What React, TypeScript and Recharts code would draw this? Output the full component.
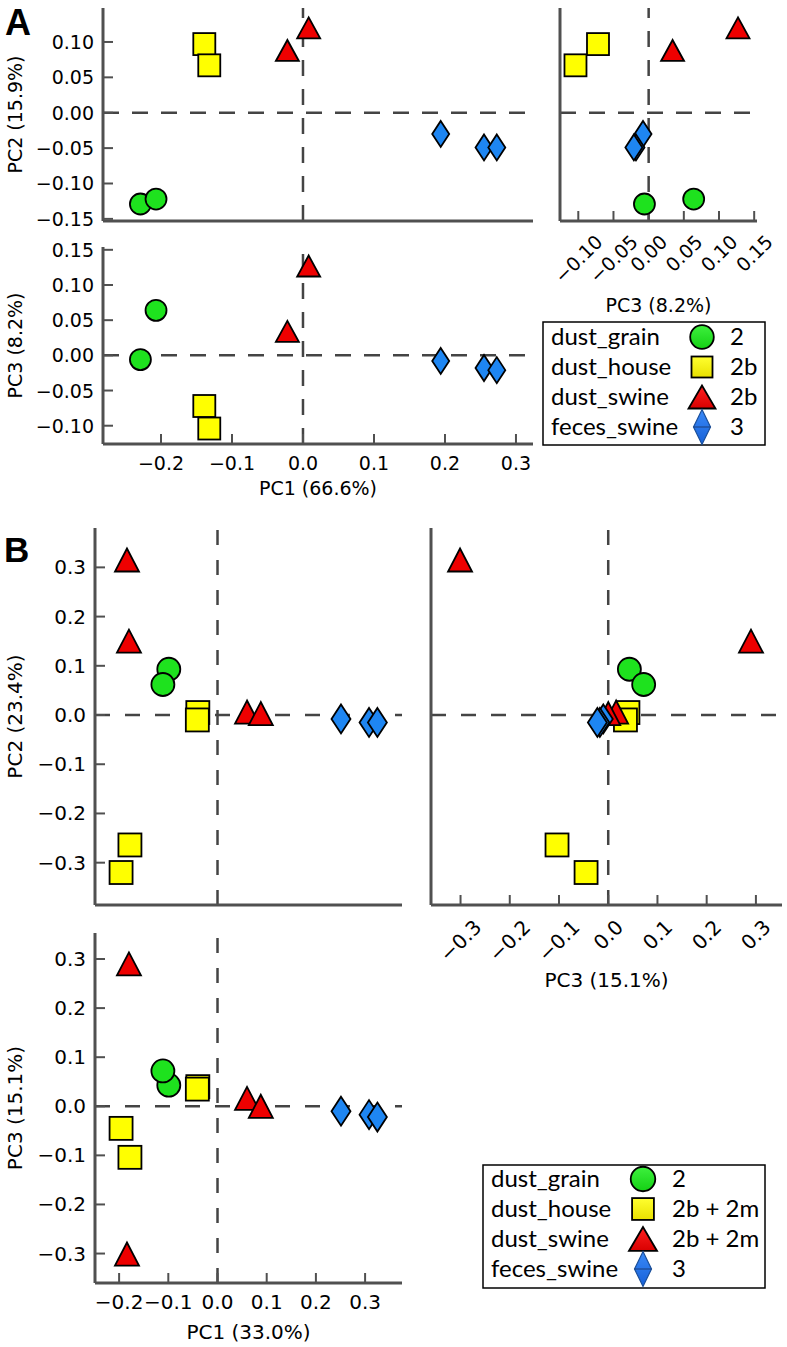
import React from 'react';
import { ScatterChart, Scatter, XAxis, YAxis, ReferenceLine } from 'recharts';

const GROUP_NAMES = ['dust_grain', 'dust_house', 'dust_swine', 'feces_swine'];
const GROUP_COLORS = ['#1ee21e', '#ffff00', '#ee0000', '#1e86f2'];
const GROUP_SHAPES = ['circle', 'square', 'triangle', 'diamond'];

// ---- Panel A values ----
const A_PC1_GRAIN = [-0.229, -0.207];
const A_PC2_GRAIN = [-0.129, -0.122];
const A_PC3_GRAIN = [-0.006, 0.064];
const A_PC1_HOUSE = [-0.139, -0.132];
const A_PC2_HOUSE = [0.097, 0.067];
const A_PC3_HOUSE = [-0.072, -0.104];
const A_PC1_SWINE = [-0.022, 0.008];
const A_PC2_SWINE = [0.088, 0.12];
const A_PC3_SWINE = [0.034, 0.127];
const A_PC1_FECES = [0.194, 0.255, 0.273];
const A_PC2_FECES = [-0.03, -0.049, -0.049];
const A_PC3_FECES = [-0.008, -0.018, -0.021];

// ---- Panel B values ----
const B_PC1_GRAIN = [-0.099, -0.111];
const B_PC2_GRAIN = [0.093, 0.062];
const B_PC3_GRAIN = [0.043, 0.072];
const B_PC1_HOUSE = [-0.04, -0.041, -0.178, -0.196];
const B_PC2_HOUSE = [0.005, -0.01, -0.264, -0.32];
const B_PC3_HOUSE = [0.04, 0.035, -0.104, -0.045];
const B_PC1_SWINE = [-0.184, -0.18, 0.06, 0.088];
const B_PC2_SWINE = [0.315, 0.15, 0.006, 0.003];
const B_PC3_SWINE = [-0.301, 0.29, 0.016, 0.0];
const B_PC1_FECES = [0.251, 0.308, 0.325];
const B_PC2_FECES = [-0.008, -0.015, -0.015];
const B_PC3_FECES = [-0.01, -0.017, -0.022];

// ---- tick labels ----
const A_PC1_TICKS = [-0.2, -0.1, 0, 0.1, 0.2, 0.3];
const A_PC2_TICKS = [-0.15, -0.1, -0.05, 0, 0.05, 0.1];
const A_PC3_TICKS = [-0.1, -0.05, 0, 0.05, 0.1, 0.15];
const B_PC1_TICKS = [-0.2, -0.1, 0, 0.1, 0.2, 0.3];
const B_PC2_TICKS = [-0.3, -0.2, -0.1, 0, 0.1, 0.2, 0.3];
const B_PC3_TICKS = [-0.3, -0.2, -0.1, 0, 0.1, 0.2, 0.3];

const A_LABELS = { pc1: 'PC1 (66.6%)', pc2: 'PC2 (15.9%)', pc3: 'PC3 (8.2%)' };
const B_LABELS = { pc1: 'PC1 (33.0%)', pc2: 'PC2 (23.4%)', pc3: 'PC3 (15.1%)' };

const A_LEGEND_VALUES = ['2', '2b', '2b', '3'];
const B_LEGEND_VALUES = ['2', '2b + 2m', '2b + 2m', '3'];

const A_GROUPS = [
  { pc1: A_PC1_GRAIN, pc2: A_PC2_GRAIN, pc3: A_PC3_GRAIN },
  { pc1: A_PC1_HOUSE, pc2: A_PC2_HOUSE, pc3: A_PC3_HOUSE },
  { pc1: A_PC1_SWINE, pc2: A_PC2_SWINE, pc3: A_PC3_SWINE },
  { pc1: A_PC1_FECES, pc2: A_PC2_FECES, pc3: A_PC3_FECES },
];
const B_GROUPS = [
  { pc1: B_PC1_GRAIN, pc2: B_PC2_GRAIN, pc3: B_PC3_GRAIN },
  { pc1: B_PC1_HOUSE, pc2: B_PC2_HOUSE, pc3: B_PC3_HOUSE },
  { pc1: B_PC1_SWINE, pc2: B_PC2_SWINE, pc3: B_PC3_SWINE },
  { pc1: B_PC1_FECES, pc2: B_PC2_FECES, pc3: B_PC3_FECES },
];

const A_DOMAIN = { pc1: [-0.2817, 0.324], pc2: [-0.153, 0.148], pc3: [-0.126, 0.154] };
const B_DOMAIN = { pc1: [-0.249, 0.375], pc2: [-0.386, 0.38], pc3: [-0.36, 0.353] };

const FONT = '"DejaVu Sans", sans-serif';
const AXIS_COLOR = '#505050';

const A_SIZES = { r: 10.5, sq: 22, tw: 23, th: 21, dw: 17, dh: 26 };
const B_SIZES = { r: 11.5, sq: 23, tw: 24, th: 23, dw: 19, dh: 29 };

function Marker({ kind, cx, cy, color, s }: any) {
  if (cx == null || cy == null) return null;
  const common = { fill: color, stroke: '#000', strokeWidth: 1.8 };
  if (kind === 'circle') return <circle cx={cx} cy={cy} r={s.r} {...common} />;
  if (kind === 'square')
    return <rect x={cx - s.sq / 2} y={cy - s.sq / 2} width={s.sq} height={s.sq} {...common} />;
  if (kind === 'triangle')
    return (
      <polygon
        points={`${cx},${cy - s.th / 2} ${cx - s.tw / 2},${cy + s.th / 2} ${cx + s.tw / 2},${cy + s.th / 2}`}
        {...common}
      />
    );
  return (
    <polygon
      points={`${cx},${cy - s.dh / 2} ${cx + s.dw / 2},${cy} ${cx},${cy + s.dh / 2} ${cx - s.dw / 2},${cy}`}
      {...common}
    />
  );
}

const fmt = (v: number, d: number) => (v < -1e-9 ? '\u2212' : '') + Math.abs(v).toFixed(d);
const textW = (s: string) =>
  [...s].reduce((a, c) => a + (c === '.' ? 0.318 : c === '\u2212' ? 0.838 : 0.636), 0);

const makeBottomTick = (fs: number, d: number, off: number) => (props: any) => {
  const { x, y, payload } = props;
  return (
    <text x={x} y={y + off} textAnchor="middle" dominantBaseline="central" fontSize={fs} fontFamily={FONT} fill="#000">
      {fmt(payload.value, d)}
    </text>
  );
};

const makeRotTick = (fs: number, d: number, pad: number) => (props: any) => {
  const { x, y, payload } = props;
  const s = fmt(payload.value, d);
  const half = ((textW(s) * fs + fs) * 0.7071) / 2;
  const cy = y + pad + half;
  return (
    <text
      x={x}
      y={cy}
      textAnchor="middle"
      dominantBaseline="central"
      transform={`rotate(-45 ${x} ${cy})`}
      fontSize={fs}
      fontFamily={FONT}
      fill="#000"
    >
      {s}
    </text>
  );
};

const makeLeftTick = (fs: number, d: number, off: number) => (props: any) => {
  const { x, y, payload } = props;
  return (
    <text x={x - off} y={y} textAnchor="end" dominantBaseline="central" fontSize={fs} fontFamily={FONT} fill="#000">
      {fmt(payload.value, d)}
    </text>
  );
};

const makeXLabel = (text: string, off: number, fs: number) => (props: any) => {
  const vb = props.viewBox;
  return (
    <text x={vb.x + vb.width / 2} y={vb.y + off} textAnchor="middle" dominantBaseline="central" fontSize={fs} fontFamily={FONT} fill="#000">
      {text}
    </text>
  );
};

const makeYLabel = (text: string, xPos: number, fs: number) => (props: any) => {
  const vb = props.viewBox;
  const cy = vb.y + vb.height / 2;
  return (
    <text
      x={xPos}
      y={cy}
      transform={`rotate(-90 ${xPos} ${cy})`}
      textAnchor="middle"
      dominantBaseline="central"
      fontSize={fs}
      fontFamily={FONT}
      fill="#000"
    >
      {text}
    </text>
  );
};

type PanelProps = {
  left: number;
  top: number;
  width: number;
  height: number;
  mTop: number;
  mRight: number;
  yW: number;
  xH: number;
  groups: any[];
  xKey: 'pc1' | 'pc2' | 'pc3';
  yKey: 'pc1' | 'pc2' | 'pc3';
  xDomain: number[];
  yDomain: number[];
  xTicks: number[];
  yTicks: number[];
  xMode: 'none' | 'normal' | 'rot';
  yShow: boolean;
  xLabel?: string;
  xLabelOff?: number;
  yLabel?: string;
  fs: number;
  xDec: number;
  yDec: number;
  sizes: any;
  dash: string;
  rotPad?: number;
};

function Panel(p: PanelProps) {
  let xTick: any = false;
  if (p.xMode === 'normal') xTick = makeBottomTick(p.fs, p.xDec, 19);
  if (p.xMode === 'rot') xTick = makeRotTick(p.fs, p.xDec, p.rotPad || 11);
  const yTick: any = p.yShow ? makeLeftTick(p.fs, p.yDec, 9) : false;
  return (
    <div style={{ position: 'absolute', left: p.left, top: p.top, width: p.width, height: p.height }}>
      <ScatterChart width={p.width} height={p.height} margin={{ top: p.mTop, right: p.mRight, bottom: 0, left: 0 }}>
        <XAxis
          type="number"
          dataKey="x"
          domain={p.xDomain}
          allowDataOverflow
          ticks={p.xTicks}
          interval={0}
          height={p.xH}
          tick={xTick}
          tickSize={-10}
          tickMargin={10}
          axisLine={{ stroke: AXIS_COLOR, strokeWidth: 3 }}
          tickLine={{ stroke: AXIS_COLOR, strokeWidth: 2 }}
          label={p.xLabel ? makeXLabel(p.xLabel, p.xLabelOff || 40, p.fs) : undefined}
        />
        <YAxis
          type="number"
          dataKey="y"
          domain={p.yDomain}
          allowDataOverflow
          ticks={p.yTicks}
          interval={0}
          width={p.yW}
          tick={yTick}
          tickSize={-10}
          tickMargin={10}
          axisLine={{ stroke: AXIS_COLOR, strokeWidth: 3 }}
          tickLine={{ stroke: AXIS_COLOR, strokeWidth: 2 }}
          label={p.yLabel ? makeYLabel(p.yLabel, 15, p.fs) : undefined}
        />
        <ReferenceLine x={0} stroke="#444" strokeWidth={2.5} strokeDasharray={p.dash} />
        <ReferenceLine y={0} stroke="#444" strokeWidth={2.5} strokeDasharray={p.dash} />
        {p.groups.map((g, gi) => {
          const data = g[p.xKey].map((v: number, i: number) => ({ x: v, y: g[p.yKey][i] }));
          return (
            <Scatter
              key={gi}
              name={GROUP_NAMES[gi]}
              data={data}
              isAnimationActive={false}
              shape={(sp: any) => (
                <Marker kind={GROUP_SHAPES[gi]} cx={sp.cx} cy={sp.cy} color={GROUP_COLORS[gi]} s={p.sizes} />
              )}
            />
          );
        })}
      </ScatterChart>
    </div>
  );
}

function LegendMarker({ kind, cx, cy, big }: any) {
  const k = big ? 1.04 : 1;
  if (kind === 'circle')
    return <circle cx={cx} cy={cy} r={11.8 * k} fill="url(#lgGreen)" stroke="#000" strokeWidth={1.8} />;
  if (kind === 'square') {
    const s = 21 * k;
    return <rect x={cx - s / 2} y={cy - s / 2} width={s} height={s} fill="url(#lgYellow)" stroke="#000" strokeWidth={1.8} />;
  }
  if (kind === 'triangle') {
    const w = 27 * k, h = 23 * k;
    return (
      <polygon
        points={`${cx},${cy - h / 2} ${cx - w / 2},${cy + h / 2} ${cx + w / 2},${cy + h / 2}`}
        fill="url(#lgRed)"
        stroke="#000"
        strokeWidth={1.8}
      />
    );
  }
  const w = 17, h = 35;
  return (
    <g>
      <polygon
        points={`${cx},${cy - h / 2} ${cx + w / 2},${cy} ${cx},${cy + h / 2} ${cx - w / 2},${cy}`}
        fill="url(#lgBlue)"
        stroke="#1a4f9a"
        strokeWidth={1.2}
      />
      <line x1={cx - w / 2} y1={cy} x2={cx + w / 2} y2={cy} stroke="#1a3f7a" strokeWidth={1} />
    </g>
  );
}

function LegendBox({ x, y, w, h, textX, markerX, valueX, rows, values, fs, big }: any) {
  return (
    <g>
      <rect x={x} y={y} width={w} height={h} fill="#fff" stroke="#000" strokeWidth={1.5} />
      {rows.map((ry: number, i: number) => (
        <g key={i}>
          <text x={textX} y={ry + 8} fontSize={fs} fontFamily="Lato, sans-serif" fill="#000">
            {GROUP_NAMES[i]}
          </text>
          <LegendMarker kind={GROUP_SHAPES[i]} cx={markerX} cy={ry} big={big} />
          <text x={valueX} y={ry + 8} fontSize={fs} fontFamily="Lato, sans-serif" fill="#000">
            {values[i]}
          </text>
        </g>
      ))}
    </g>
  );
}

export default function App() {
  return (
    <div style={{ position: 'absolute', left: 0, top: 0, width: 787, height: 1347, background: '#fff', overflow: 'hidden' }}>
      {/* Panel A */}
      <Panel left={0} top={0} width={537} height={233} mTop={8} mRight={4} yW={103} xH={12}
        groups={A_GROUPS} xKey="pc1" yKey="pc2" xDomain={A_DOMAIN.pc1} yDomain={A_DOMAIN.pc2}
        xTicks={A_PC1_TICKS} yTicks={A_PC2_TICKS} xMode="none" yShow yLabel={A_LABELS.pc2}
        fs={19} xDec={1} yDec={2} sizes={A_SIZES} dash="16 13" />
      <Panel left={540} top={0} width={247} height={320} mTop={8} mRight={30} yW={20} xH={99}
        groups={A_GROUPS} xKey="pc3" yKey="pc2" xDomain={A_DOMAIN.pc3} yDomain={A_DOMAIN.pc2}
        xTicks={A_PC3_TICKS} yTicks={A_PC2_TICKS} xMode="rot" rotPad={10.5} yShow={false}
        xLabel={A_LABELS.pc3} xLabelOff={84} fs={19} xDec={2} yDec={2} sizes={A_SIZES} dash="16 13" />
      <Panel left={0} top={240} width={537} height={260} mTop={7} mRight={4} yW={103} xH={56}
        groups={A_GROUPS} xKey="pc1" yKey="pc3" xDomain={A_DOMAIN.pc1} yDomain={A_DOMAIN.pc3}
        xTicks={A_PC1_TICKS} yTicks={A_PC3_TICKS} xMode="normal" yShow yLabel={A_LABELS.pc3}
        xLabel={A_LABELS.pc1} xLabelOff={44} fs={19} xDec={1} yDec={2} sizes={A_SIZES} dash="16 13" />
      {/* Panel B */}
      <Panel left={0} top={510} width={406} height={407} mTop={18} mRight={4} yW={95} xH={12}
        groups={B_GROUPS} xKey="pc1" yKey="pc2" xDomain={B_DOMAIN.pc1} yDomain={B_DOMAIN.pc2}
        xTicks={B_PC1_TICKS} yTicks={B_PC2_TICKS} xMode="none" yShow yLabel={B_LABELS.pc2}
        fs={20} xDec={1} yDec={1} sizes={B_SIZES} dash="15 15" />
      <Panel left={411} top={510} width={375} height={490} mTop={18} mRight={4} yW={20} xH={95}
        groups={B_GROUPS} xKey="pc3" yKey="pc2" xDomain={B_DOMAIN.pc3} yDomain={B_DOMAIN.pc2}
        xTicks={B_PC3_TICKS} yTicks={B_PC2_TICKS} xMode="rot" rotPad={11.5} yShow={false}
        xLabel={B_LABELS.pc3} xLabelOff={75} fs={20} xDec={1} yDec={1} sizes={B_SIZES} dash="15 15" />
      <Panel left={0} top={920} width={406} height={427} mTop={13} mRight={4} yW={95} xH={64}
        groups={B_GROUPS} xKey="pc1" yKey="pc3" xDomain={B_DOMAIN.pc1} yDomain={B_DOMAIN.pc3}
        xTicks={B_PC1_TICKS} yTicks={B_PC3_TICKS} xMode="normal" yShow yLabel={B_LABELS.pc3}
        xLabel={B_LABELS.pc1} xLabelOff={49} fs={20} xDec={1} yDec={1} sizes={B_SIZES} dash="15 15" />

      <svg width={787} height={1347} style={{ position: 'absolute', left: 0, top: 0, pointerEvents: 'none' }}>
        <defs>
          <linearGradient id="lgGreen" x1="0" y1="0" x2="0" y2="1">
            <stop offset="0" stopColor="#3ef03e" />
            <stop offset="1" stopColor="#14d014" />
          </linearGradient>
          <linearGradient id="lgYellow" x1="0" y1="0" x2="0" y2="1">
            <stop offset="0" stopColor="#ffff30" />
            <stop offset="1" stopColor="#e8e000" />
          </linearGradient>
          <linearGradient id="lgRed" x1="0" y1="0" x2="0" y2="1">
            <stop offset="0" stopColor="#ff2020" />
            <stop offset="1" stopColor="#d80000" />
          </linearGradient>
          <linearGradient id="lgBlue" x1="0" y1="0" x2="0" y2="1">
            <stop offset="0" stopColor="#3a8af8" />
            <stop offset="1" stopColor="#1660d8" />
          </linearGradient>
        </defs>
        <text x={5} y={35} fontSize={36} fontWeight="bold" fontFamily='"Liberation Sans", Arial, sans-serif' fill="#000">A</text>
        <text x={4} y={562} fontSize={35} fontWeight="bold" fontFamily='"Liberation Sans", Arial, sans-serif' fill="#000">B</text>
        <LegendBox x={543} y={322} w={222} h={123} textX={551} markerX={702} valueX={730}
          rows={[337, 367, 397, 427]} values={A_LEGEND_VALUES} fs={24} />
        <LegendBox x={483} y={1165} w={282} h={123} textX={491} markerX={643} valueX={672}
          rows={[1179, 1209, 1239, 1269]} values={B_LEGEND_VALUES} fs={24} big />
      </svg>
    </div>
  );
}
